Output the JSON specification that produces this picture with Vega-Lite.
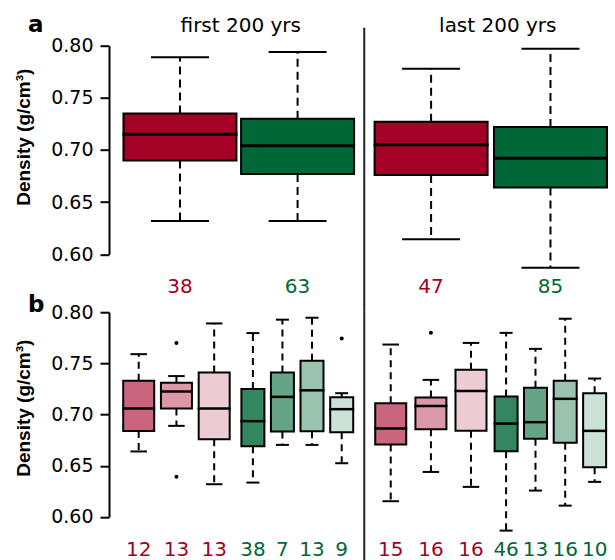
{
  "$schema": "https://vega.github.io/schema/vega-lite/v6.json",
  "padding": {"left": 14, "top": 13.7, "right": 0, "bottom": 0},
  "config": {
    "view": {"stroke": null},
    "font": "DejaVu Sans",
    "axisY": {"titleFont": "Liberation Sans", "titleFontWeight": "bold", "titleFontSize": 19, "titleColor": "black", "titleAngle": 270, "titleX": -80, "titleAlign": "center", "titleBaseline": "alphabetic",
      "labelFont": "DejaVu Sans", "labelFontSize": 19, "labelColor": "black", "labelPadding": 7, "labelFlush": false, "labelOverlap": false, "labelBaseline": "middle",
      "tickSize": 9, "tickWidth": 2, "tickColor": "black", "domainColor": "black", "domainWidth": 2, "grid": false}
  },
  "datasets": {
    "overall": [
      {"box": "a1", "period": "first 200 yrs", "group": "A", "at": 1, "lower": 0.632, "q1": 0.690, "median": 0.715, "q3": 0.735, "upper": 0.789, "n": 38},
      {"box": "a2", "period": "first 200 yrs", "group": "B", "at": 2, "lower": 0.632, "q1": 0.677, "median": 0.704, "q3": 0.730, "upper": 0.794, "n": 63},
      {"box": "a3", "period": "last 200 yrs", "group": "A", "at": 3.135, "lower": 0.6145, "q1": 0.676, "median": 0.705, "q3": 0.727, "upper": 0.778, "n": 47},
      {"box": "a4", "period": "last 200 yrs", "group": "B", "at": 4.15, "lower": 0.587, "q1": 0.664, "median": 0.692, "q3": 0.722, "upper": 0.797, "n": 85}
    ],
    "sub": [
      {"box": "b1", "group": "A", "cls": "A1", "at": 1, "lower": 0.664, "q1": 0.684, "median": 0.706, "q3": 0.733, "upper": 0.759, "n": 12},
      {"box": "b2", "group": "A", "cls": "A2", "at": 2, "lower": 0.689, "q1": 0.706, "median": 0.7225, "q3": 0.731, "upper": 0.7376, "n": 13},
      {"box": "b3", "group": "A", "cls": "A3", "at": 3, "lower": 0.632, "q1": 0.676, "median": 0.706, "q3": 0.741, "upper": 0.789, "n": 13},
      {"box": "b4", "group": "B", "cls": "B1", "at": 4.026, "lower": 0.6336, "q1": 0.6692, "median": 0.6936, "q3": 0.7249, "upper": 0.7796, "n": 38},
      {"box": "b5", "group": "B", "cls": "B2", "at": 4.808, "lower": 0.6704, "q1": 0.6834, "median": 0.7173, "q3": 0.741, "upper": 0.7927, "n": 7},
      {"box": "b6", "group": "B", "cls": "B3", "at": 5.592, "lower": 0.6704, "q1": 0.6838, "median": 0.7237, "q3": 0.7526, "upper": 0.7946, "n": 13},
      {"box": "b7", "group": "B", "cls": "B4", "at": 6.379, "lower": 0.6525, "q1": 0.6828, "median": 0.7053, "q3": 0.717, "upper": 0.7209, "n": 9},
      {"box": "b8", "group": "A", "cls": "A1", "at": 7.678, "lower": 0.6154, "q1": 0.6707, "median": 0.6863, "q3": 0.7111, "upper": 0.7684, "n": 15},
      {"box": "b9", "group": "A", "cls": "A2", "at": 8.743, "lower": 0.644, "q1": 0.6857, "median": 0.7085, "q3": 0.7166, "upper": 0.7339, "n": 16},
      {"box": "b10", "group": "A", "cls": "A3", "at": 9.805, "lower": 0.6294, "q1": 0.6841, "median": 0.7231, "q3": 0.7437, "upper": 0.77, "n": 16},
      {"box": "b11", "group": "B", "cls": "B1", "at": 10.735, "lower": 0.5867, "q1": 0.6642, "median": 0.6912, "q3": 0.7176, "upper": 0.7798, "n": 46},
      {"box": "b12", "group": "B", "cls": "B2", "at": 11.514, "lower": 0.6258, "q1": 0.6763, "median": 0.6926, "q3": 0.7261, "upper": 0.7642, "n": 13},
      {"box": "b13", "group": "B", "cls": "B3", "at": 12.301, "lower": 0.6111, "q1": 0.6724, "median": 0.7154, "q3": 0.7331, "upper": 0.7936, "n": 16},
      {"box": "b14", "group": "B", "cls": "B4", "at": 13.081, "lower": 0.6343, "q1": 0.6486, "median": 0.6841, "q3": 0.7209, "upper": 0.7352, "n": 10}
    ],
    "outliers": [
      {"box": "b2", "value": 0.7698},
      {"box": "b2", "value": 0.6392},
      {"box": "b7", "value": 0.7742},
      {"box": "b9", "value": 0.78}
    ]
  },
  "spacing": 57.5,
  "bounds": "flush",
  "resolve": {"scale": {"fill": "independent", "color": "independent"}},
  "vconcat": [
    {
      "width": 506,
      "height": 208.6,
      "data": {"name": "overall"},
      "encoding": {
        "x": {"field": "at", "type": "quantitative", "scale": {"domain": [0.4392, 4.656], "nice": false, "zero": false}, "axis": null},
        "y": {"field": "q3", "type": "quantitative", "scale": {"domain": [0.6, 0.8], "nice": false, "zero": false},
          "axis": {"title": "Density (g/cm³)", "titleY": 91, "values": [0.6, 0.65, 0.7, 0.75, 0.8], "format": ".2f"}}
      },
      "layer": [
        {
          "mark": {"type": "rule", "strokeDash": [8, 5], "strokeWidth": 2, "color": "black"},
          "encoding": {"y2": {"field": "upper"}}
        },
        {
          "mark": {"type": "rule", "strokeDash": [8, 5], "strokeWidth": 2, "color": "black"},
          "encoding": {"y": {"field": "q1", "type": "quantitative", "title": "Density (g/cm³)"}, "y2": {"field": "lower"}}
        },
        {
          "mark": {"type": "tick", "orient": "horizontal", "size": 58, "thickness": 2, "color": "black", "opacity": 1},
          "encoding": {"y": {"field": "upper", "type": "quantitative", "title": "Density (g/cm³)"}}
        },
        {
          "mark": {"type": "tick", "orient": "horizontal", "size": 58, "thickness": 2, "color": "black", "opacity": 1},
          "encoding": {"y": {"field": "lower", "type": "quantitative", "title": "Density (g/cm³)"}}
        },
        {
          "mark": {"type": "bar", "orient": "vertical", "size": 113, "stroke": "black", "strokeWidth": 2, "opacity": 1},
          "encoding": {
            "y": {"field": "q1", "type": "quantitative", "title": "Density (g/cm³)"},
            "y2": {"field": "q3"},
            "fill": {"field": "group", "type": "nominal", "scale": {"domain": ["A", "B"], "range": ["#A50026", "#006837"]}, "legend": null}
          }
        },
        {
          "mark": {"type": "tick", "orient": "horizontal", "size": 115, "thickness": 3, "color": "black", "opacity": 1},
          "encoding": {"y": {"field": "median", "type": "quantitative", "title": "Density (g/cm³)"}}
        },
        {
          "mark": {"type": "text", "fontSize": 20, "font": "DejaVu Sans", "align": "center", "baseline": "alphabetic"},
          "encoding": {
            "y": {"datum": 0.5629, "type": "quantitative"},
            "text": {"field": "n", "type": "quantitative"},
            "color": {"field": "group", "type": "nominal", "scale": {"domain": ["A", "B"], "range": ["#A50026", "#006837"]}, "legend": null}
          }
        },
        {
          "transform": [{"filter": "datum.box === 'a1'"}],
          "layer": [
            {
              "mark": {"type": "text", "text": "first 200 yrs", "fontSize": 20, "font": "DejaVu Sans", "align": "center", "baseline": "alphabetic", "color": "black", "invalid": null},
              "encoding": {"x": {"datum": 1.5167, "type": "quantitative"}, "y": {"datum": 0.8128, "type": "quantitative"}}
            },
            {
              "mark": {"type": "text", "text": "last 200 yrs", "fontSize": 20, "font": "DejaVu Sans", "align": "center", "baseline": "alphabetic", "color": "black", "invalid": null},
              "encoding": {"x": {"datum": 3.7017, "type": "quantitative"}, "y": {"datum": 0.8128, "type": "quantitative"}}
            },
            {
              "mark": {"type": "text", "text": "a", "fontSize": 23, "font": "DejaVu Sans", "fontWeight": "bold", "align": "left", "baseline": "alphabetic", "color": "black", "invalid": null},
              "encoding": {"x": {"datum": -0.2917, "type": "quantitative"}, "y": {"datum": 0.8134, "type": "quantitative"}}
            },
            {
              "mark": {"type": "rule", "strokeWidth": 2, "color": "#222222", "invalid": null},
              "encoding": {"x": {"datum": 2.5667, "type": "quantitative"}, "y": {"datum": 0.8172, "type": "quantitative"}, "y2": {"datum": 0.5449}}
            }
          ]
        }
      ]
    },
    {
      "width": 506,
      "height": 204.8,
      "data": {"name": "sub"},
      "encoding": {
        "x": {"field": "at", "type": "quantitative", "scale": {"domain": [0.3455, 13.488], "nice": false, "zero": false}, "axis": null},
        "y": {"field": "q3", "type": "quantitative", "scale": {"domain": [0.6, 0.8], "nice": false, "zero": false},
          "axis": {"title": "Density (g/cm³)", "titleY": 95.5, "values": [0.6, 0.65, 0.7, 0.75, 0.8], "format": ".2f"}}
      },
      "layer": [
        {
          "mark": {"type": "rule", "strokeDash": [7, 5], "strokeWidth": 2, "color": "black"},
          "encoding": {"y2": {"field": "upper"}}
        },
        {
          "mark": {"type": "rule", "strokeDash": [7, 5], "strokeWidth": 2, "color": "black"},
          "encoding": {"y": {"field": "q1", "type": "quantitative", "title": "Density (g/cm³)"}, "y2": {"field": "lower"}}
        },
        {
          "transform": [{"filter": "datum.group === 'A'"}],
          "layer": [
            {
              "mark": {"type": "tick", "orient": "horizontal", "size": 16.5, "thickness": 2, "color": "black", "opacity": 1},
              "encoding": {"y": {"field": "upper", "type": "quantitative", "title": "Density (g/cm³)"}}
            },
            {
              "mark": {"type": "tick", "orient": "horizontal", "size": 16.5, "thickness": 2, "color": "black", "opacity": 1},
              "encoding": {"y": {"field": "lower", "type": "quantitative", "title": "Density (g/cm³)"}}
            },
            {
              "mark": {"type": "bar", "orient": "vertical", "size": 31, "stroke": "black", "strokeWidth": 2, "opacity": 1},
              "encoding": {
                "y": {"field": "q1", "type": "quantitative", "title": "Density (g/cm³)"},
                "y2": {"field": "q3"},
                "fill": {"field": "cls", "type": "nominal", "scale": {"domain": ["A1", "A2", "A3", "B1", "B2", "B3", "B4"], "range": ["#C9667D", "#DB99A8", "#EDCCD4", "#33865F", "#66A487", "#99C3AF", "#CCE1D7"]}, "legend": null}
              }
            },
            {
              "mark": {"type": "tick", "orient": "horizontal", "size": 33, "thickness": 2.5, "color": "black", "opacity": 1},
              "encoding": {"y": {"field": "median", "type": "quantitative", "title": "Density (g/cm³)"}}
            }
          ]
        },
        {
          "transform": [{"filter": "datum.group === 'B'"}],
          "layer": [
            {
              "mark": {"type": "tick", "orient": "horizontal", "size": 13, "thickness": 2, "color": "black", "opacity": 1},
              "encoding": {"y": {"field": "upper", "type": "quantitative", "title": "Density (g/cm³)"}}
            },
            {
              "mark": {"type": "tick", "orient": "horizontal", "size": 13, "thickness": 2, "color": "black", "opacity": 1},
              "encoding": {"y": {"field": "lower", "type": "quantitative", "title": "Density (g/cm³)"}}
            },
            {
              "mark": {"type": "bar", "orient": "vertical", "size": 23, "stroke": "black", "strokeWidth": 2, "opacity": 1},
              "encoding": {
                "y": {"field": "q1", "type": "quantitative", "title": "Density (g/cm³)"},
                "y2": {"field": "q3"},
                "fill": {"field": "cls", "type": "nominal", "scale": {"domain": ["A1", "A2", "A3", "B1", "B2", "B3", "B4"], "range": ["#C9667D", "#DB99A8", "#EDCCD4", "#33865F", "#66A487", "#99C3AF", "#CCE1D7"]}, "legend": null}
              }
            },
            {
              "mark": {"type": "tick", "orient": "horizontal", "size": 25, "thickness": 2.5, "color": "black", "opacity": 1},
              "encoding": {"y": {"field": "median", "type": "quantitative", "title": "Density (g/cm³)"}}
            }
          ]
        },
        {
          "data": {"name": "outliers"},
          "transform": [{"lookup": "box", "from": {"data": {"name": "sub"}, "key": "box", "fields": ["at"]}}],
          "mark": {"type": "point", "filled": true, "size": 16, "color": "black", "opacity": 1},
          "encoding": {"y": {"field": "value", "type": "quantitative", "title": "Density (g/cm³)"}}
        },
        {
          "mark": {"type": "text", "fontSize": 20, "font": "DejaVu Sans", "align": "center", "baseline": "alphabetic"},
          "encoding": {
            "y": {"datum": 0.562, "type": "quantitative"},
            "text": {"field": "n", "type": "quantitative"},
            "color": {"field": "group", "type": "nominal", "scale": {"domain": ["A", "B"], "range": ["#A50026", "#006837"]}, "legend": null}
          }
        },
        {
          "transform": [{"filter": "datum.box === 'b1'"}],
          "layer": [
            {
              "mark": {"type": "text", "text": "b", "fontSize": 23, "font": "DejaVu Sans", "fontWeight": "bold", "align": "left", "baseline": "alphabetic", "color": "black", "invalid": null},
              "encoding": {"x": {"datum": -1.9325, "type": "quantitative"}, "y": {"datum": 0.8001, "type": "quantitative"}}
            },
            {
              "mark": {"type": "rule", "strokeWidth": 2, "color": "#222222", "invalid": null},
              "encoding": {"x": {"datum": 6.9766, "type": "quantitative"}, "y": {"datum": 0.8005, "type": "quantitative"}, "y2": {"datum": 0.5565}}
            }
          ]
        }
      ]
    }
  ]
}
